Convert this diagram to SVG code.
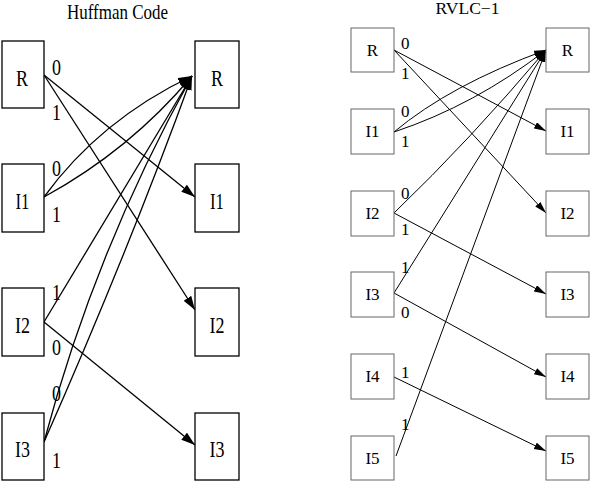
<svg xmlns="http://www.w3.org/2000/svg" width="590" height="481" viewBox="0 0 590 481">
<style>
  .bg{fill:#fff}
  .lbox{fill:#fff;stroke:#000;stroke-width:1.3}
  .rbox{fill:#fff;stroke:#666;stroke-width:1}
  .ltxt{font-family:"Liberation Serif","Times New Roman",serif;font-size:23px;fill:#000}
  .rtxt{font-family:"Liberation Serif","Times New Roman",serif;font-size:17px;fill:#000}
  .rlab{font-family:"Liberation Serif","Times New Roman",serif;font-size:17px;fill:#000}
  .c{text-anchor:middle}
  .le{fill:none;stroke:#000;stroke-width:1.3;marker-end:url(#la)}
  .re{fill:none;stroke:#000;stroke-width:1;marker-end:url(#ra)}
</style>
<defs>
  <marker id="la" markerUnits="userSpaceOnUse" markerWidth="15" markerHeight="10" refX="14" refY="4.5" orient="auto">
    <path d="M0,0 L14,4.5 L0,9 z" fill="#000"/>
  </marker>
  <marker id="ra" markerUnits="userSpaceOnUse" markerWidth="13" markerHeight="8" refX="12" refY="3.5" orient="auto">
    <path d="M0,0 L12,3.5 L0,7 z" fill="#000"/>
  </marker>
</defs>
<rect class="bg" x="0" y="0" width="590" height="481"/>

<text class="ltxt c" x="117.5" y="19" style="font-size:21px" textLength="101" lengthAdjust="spacingAndGlyphs">Huffman Code</text>
<text class="rtxt c" x="467.5" y="14" style="font-size:16px" textLength="64" lengthAdjust="spacingAndGlyphs">RVLC−1</text>

<g id="connectors">
  <!-- Huffman -->
  <path class="le" d="M44,75 L195,197"/>
  <path class="le" d="M44,75 L195,310"/>
  <path class="le" d="M44,197 Q100,120 192,76"/>
  <path class="le" d="M44,197 Q130,150 192,76"/>
  <path class="le" d="M44,322 Q112,210 192,76"/>
  <path class="le" d="M44,322 L195,445"/>
  <path class="le" d="M44,442 Q95,250 192,76"/>
  <path class="le" d="M44,442 Q128,252 192,76"/>
  <!-- RVLC-1 -->
  <path class="re" d="M394,50 L546,131"/>
  <path class="re" d="M394,50 L546,213"/>
  <path class="re" d="M394,132 Q450,85 546,50"/>
  <path class="re" d="M394,132 Q475,105 546,50"/>
  <path class="re" d="M394,213 Q470,140 546,50"/>
  <path class="re" d="M394,213 L546,294"/>
  <path class="re" d="M394,293 L546,50"/>
  <path class="re" d="M394,293 L546,377"/>
  <path class="re" d="M394,377 L546,451"/>
  <path class="re" d="M396,456 L546,50"/>
</g>

<g id="edge-labels">
  <text class="ltxt" x="52" y="75" textLength="9" lengthAdjust="spacingAndGlyphs">0</text>
  <text class="ltxt" x="52" y="120" textLength="9" lengthAdjust="spacingAndGlyphs">1</text>
  <text class="ltxt" x="52" y="176" textLength="9" lengthAdjust="spacingAndGlyphs">0</text>
  <text class="ltxt" x="52" y="222" textLength="9" lengthAdjust="spacingAndGlyphs">1</text>
  <text class="ltxt" x="52" y="300" textLength="9" lengthAdjust="spacingAndGlyphs">1</text>
  <text class="ltxt" x="52" y="355" textLength="9" lengthAdjust="spacingAndGlyphs">0</text>
  <text class="ltxt" x="52" y="401" textLength="9" lengthAdjust="spacingAndGlyphs">0</text>
  <text class="ltxt" x="52" y="468" textLength="9" lengthAdjust="spacingAndGlyphs">1</text>

  <text class="rlab" x="401" y="49">0</text>
  <text class="rlab" x="401" y="79">1</text>
  <text class="rlab" x="401" y="117">0</text>
  <text class="rlab" x="401" y="147">1</text>
  <text class="rlab" x="401" y="199">0</text>
  <text class="rlab" x="401" y="235">1</text>
  <text class="rlab" x="401" y="273">1</text>
  <text class="rlab" x="401" y="318">0</text>
  <text class="rlab" x="401" y="378">1</text>
  <text class="rlab" x="401" y="430">1</text>
</g>

<!-- Huffman nodes, left column -->
<g id="h-src-R"><rect class="lbox" x="2" y="41" width="42" height="67"/><text class="ltxt c" x="22" y="86" textLength="12" lengthAdjust="spacingAndGlyphs">R</text></g>
<g id="h-src-I1"><rect class="lbox" x="2" y="164" width="42" height="68"/><text class="ltxt c" x="22.5" y="209" textLength="14" lengthAdjust="spacingAndGlyphs">I1</text></g>
<g id="h-src-I2"><rect class="lbox" x="2" y="288" width="42" height="68"/><text class="ltxt c" x="22.5" y="333" textLength="15" lengthAdjust="spacingAndGlyphs">I2</text></g>
<g id="h-src-I3"><rect class="lbox" x="2" y="413" width="42" height="67"/><text class="ltxt c" x="22.5" y="457" textLength="15" lengthAdjust="spacingAndGlyphs">I3</text></g>
<!-- Huffman nodes, right column -->
<g id="h-dst-R"><rect class="lbox" x="195" y="41" width="44" height="67"/><text class="ltxt c" x="217" y="86" textLength="12" lengthAdjust="spacingAndGlyphs">R</text></g>
<g id="h-dst-I1"><rect class="lbox" x="195" y="164" width="44" height="68"/><text class="ltxt c" x="217" y="209" textLength="14" lengthAdjust="spacingAndGlyphs">I1</text></g>
<g id="h-dst-I2"><rect class="lbox" x="195" y="288" width="44" height="68"/><text class="ltxt c" x="217" y="333" textLength="15" lengthAdjust="spacingAndGlyphs">I2</text></g>
<g id="h-dst-I3"><rect class="lbox" x="195" y="413" width="44" height="67"/><text class="ltxt c" x="217" y="457" textLength="15" lengthAdjust="spacingAndGlyphs">I3</text></g>

<!-- RVLC-1 nodes, left column -->
<g id="r-src-R"><rect class="rbox" x="351" y="28" width="43" height="44"/><text class="rtxt c" x="372.5" y="56">R</text></g>
<g id="r-src-I1"><rect class="rbox" x="351" y="109" width="43" height="45"/><text class="rtxt c" x="372.5" y="137">I1</text></g>
<g id="r-src-I2"><rect class="rbox" x="351" y="191" width="43" height="45"/><text class="rtxt c" x="372.5" y="219">I2</text></g>
<g id="r-src-I3"><rect class="rbox" x="351" y="272" width="43" height="45"/><text class="rtxt c" x="372.5" y="300">I3</text></g>
<g id="r-src-I4"><rect class="rbox" x="351" y="354" width="43" height="45"/><text class="rtxt c" x="372.5" y="382">I4</text></g>
<g id="r-src-I5"><rect class="rbox" x="351" y="436" width="43" height="44"/><text class="rtxt c" x="372.5" y="464">I5</text></g>
<!-- RVLC-1 nodes, right column -->
<g id="r-dst-R"><rect class="rbox" x="546" y="28" width="43" height="44"/><text class="rtxt c" x="567.5" y="56">R</text></g>
<g id="r-dst-I1"><rect class="rbox" x="546" y="109" width="43" height="45"/><text class="rtxt c" x="567.5" y="137">I1</text></g>
<g id="r-dst-I2"><rect class="rbox" x="546" y="191" width="43" height="45"/><text class="rtxt c" x="567.5" y="219">I2</text></g>
<g id="r-dst-I3"><rect class="rbox" x="546" y="272" width="43" height="45"/><text class="rtxt c" x="567.5" y="300">I3</text></g>
<g id="r-dst-I4"><rect class="rbox" x="546" y="354" width="43" height="45"/><text class="rtxt c" x="567.5" y="382">I4</text></g>
<g id="r-dst-I5"><rect class="rbox" x="546" y="436" width="43" height="44"/><text class="rtxt c" x="567.5" y="464">I5</text></g>
</svg>
